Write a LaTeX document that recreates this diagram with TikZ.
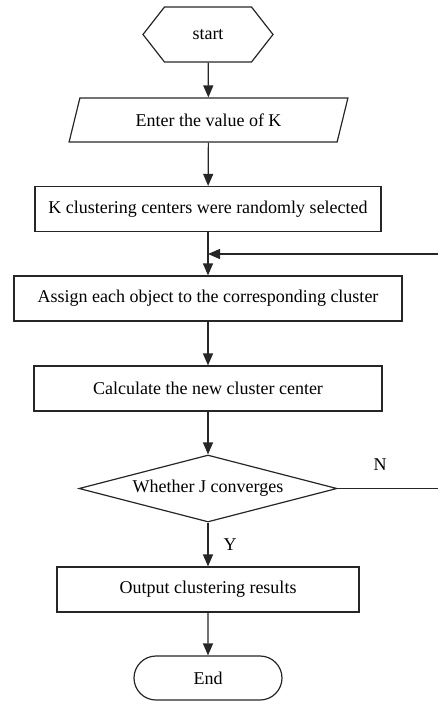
\documentclass[tikz,border=0pt]{standalone}
\usepackage{fontspec}
\setmainfont{Liberation Serif}
\usetikzlibrary{arrows.meta,shapes.geometric,shapes.misc,shapes.symbols}

\begin{document}
\begin{tikzpicture}[x=1pt,y=-1pt,font=\fontsize{18}{21}\selectfont,
  shp/.style={draw=black!85,line width=1.2pt,inner sep=0pt},
  box/.style={shp,rectangle,minimum height=45pt},
  flow/.style={draw=black!85,line width=1.2pt,-{Triangle[length=12pt,width=10pt]}}]
  % column center
  \def\xc{208}
  \useasboundingbox (0,0) rectangle (438,701);
  % terminals and steps, top to bottom
  \node[shp,signal,signal to=east and west,signal pointer angle=104,
        minimum width=130pt,minimum height=55pt] (start) at (\xc,34.5) {start};
  \node[shp,trapezium,trapezium left angle=64.5,trapezium right angle=115.5,
        trapezium stretches=true,minimum width=279pt,minimum height=44pt]
        (enterk) at (208.5,120) {Enter the value of K};
  \node[box,minimum width=346pt] (init) at (\xc,209) {K clustering centers were randomly selected};
  \node[box,minimum width=388pt] (assign) at (\xc,298.5) {Assign each object to the corresponding cluster};
  \node[box,minimum width=348pt] (update) at (\xc,388.5) {Calculate the new cluster center};
  \node[shp,diamond,aspect=3.85,minimum width=258pt,minimum height=67pt] (conv) at (\xc,488.5) {Whether J converges};
  \node[box,minimum width=302pt] (output) at (\xc,589.5) {Output clustering results};
  \node[shp,rounded rectangle,minimum width=148pt,minimum height=44pt] (finish) at (\xc,678) {End};
  % branch labels
  \node (nlab) at (380,465) {N};
  \node (ylab) at (230,545) {Y};
  % main flow
  \foreach \a/\b in {start/enterk,enterk/init,init/assign,assign/update,update/conv,conv/output,output/finish}
    \draw[flow] (\a) -- (\b);
  % loop back (runs off the right edge)
  \coordinate (join) at (\xc,254);
  \coordinate (loopx) at (446,0);
  \begin{scope}
    \clip (0,0) rectangle (438,701);
    \draw[flow] (conv.east) -- (conv.east -| loopx) |- (join);
  \end{scope}
\end{tikzpicture}
\end{document}
